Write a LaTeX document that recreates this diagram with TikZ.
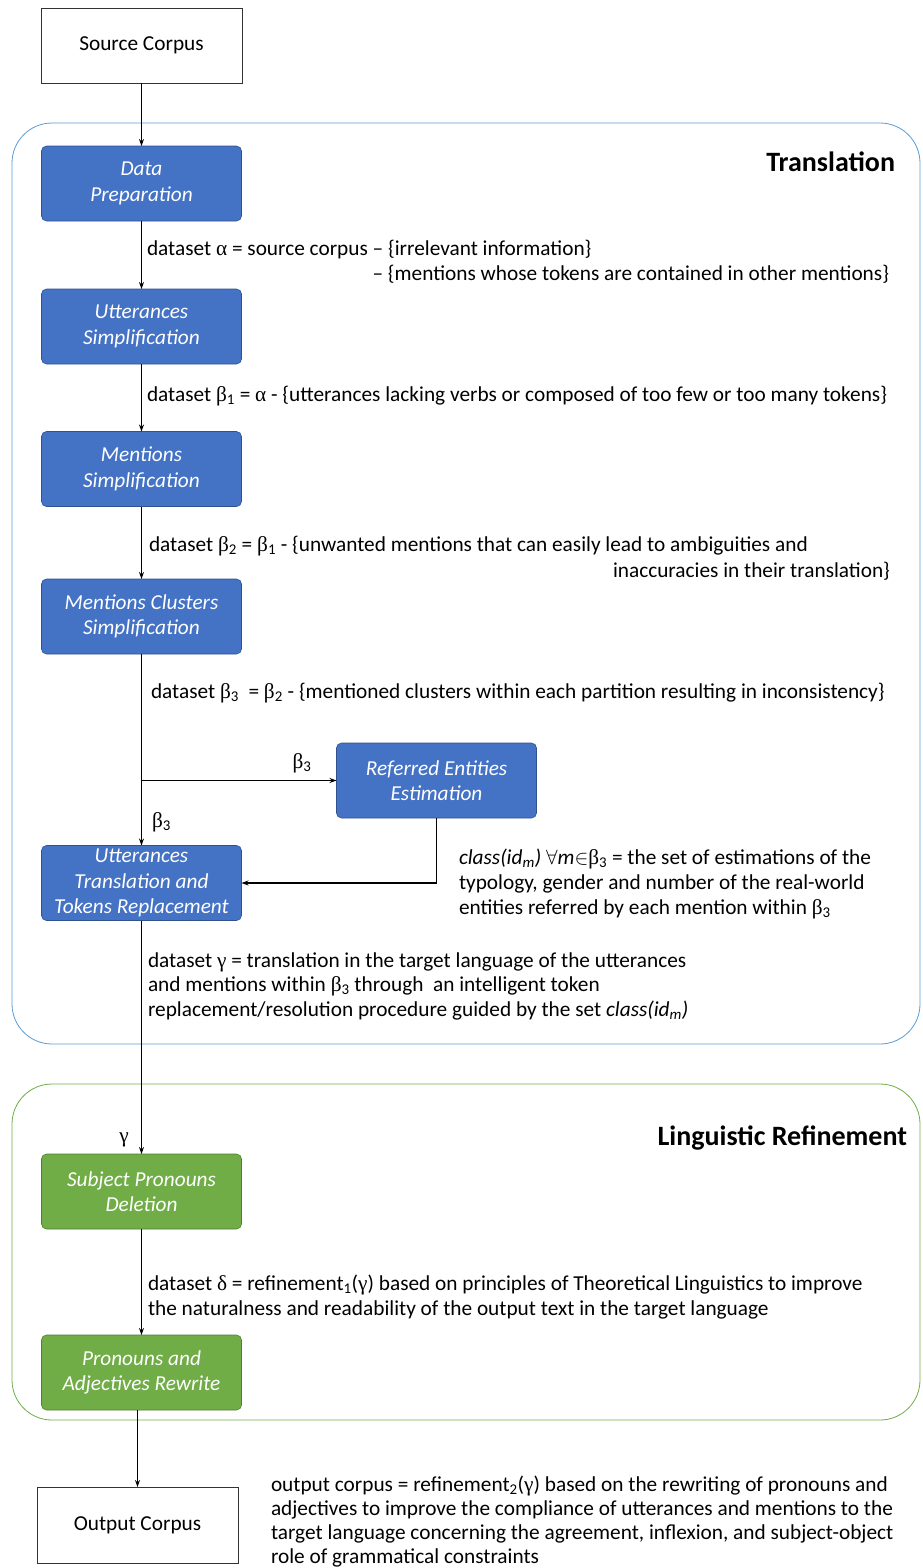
\documentclass[tikz,border=0pt]{standalone}
\usepackage{fontspec}
\setmainfont{Carlito}
\newfontfamily\grk{Liberation Serif}
\usetikzlibrary{arrows.meta}
\definecolor{boxblue}{HTML}{4472C4}
\definecolor{boxblueline}{HTML}{2F528F}
\definecolor{boxgreen}{HTML}{70AD47}
\definecolor{boxgreenline}{HTML}{507E32}
\definecolor{frameblue}{HTML}{5B9BD5}
\definecolor{framegreen}{HTML}{70AD47}
\newcommand{\gk}[1]{{\grk #1}}
\newcommand{\sub}[1]{\textsubscript{#1}}
\begin{document}
\begin{tikzpicture}[x=1pt,y=-1pt,
  every node/.style={inner sep=0pt, outer sep=0pt},
  txt/.style={font=\fontsize{21.3}{24.5}\selectfont, align=left},
  stepbox/.style={draw=boxblueline, line width=0.6pt, fill=boxblue, rounded corners=5pt,
    minimum width=200pt, minimum height=75pt, text=white,
    font=\fontsize{21.3}{25.5}\selectfont\itshape, align=center},
  greenbox/.style={stepbox, fill=boxgreen, draw=boxgreenline},
  plainbox/.style={draw=black!80, line width=0.8pt, minimum width=201pt, minimum height=75pt,
    font=\fontsize{21.3}{25}\selectfont},
  arr/.style={draw=black, line width=1.2pt, -{Stealth[length=7pt,width=5pt]}},
  frame/.style={line width=0.8pt, rounded corners=40pt},
  title/.style={font=\fontsize{28}{32}\selectfont\bfseries}
]
\useasboundingbox (0,0) rectangle (922,1568);
% containers
\node[frame, draw=frameblue, minimum width=908pt, minimum height=921pt] (trans) at (466,583.5) {};
\node[frame, draw=framegreen, minimum width=908pt, minimum height=336pt] (ling) at (466,1252) {};
\node[title, anchor=east] (transT) at (895,162) {Translation};
\node[title, anchor=east] (lingT) at (907,1138) {Linguistic Refinement};
% boxes
\node[plainbox] (src) at (141.5,45.5) {Source Corpus};
\node[stepbox] (prep) at (141.5,183.5) {Data\\Preparation};
\node[stepbox] (usimp) at (141.5,326.5) {Utterances\\Simplification};
\node[stepbox] (msimp) at (141.5,469) {Mentions\\Simplification};
\node[stepbox] (clus) at (141.5,616.5) {Mentions Clusters\\Simplification};
\node[stepbox] (ref) at (436.5,780.5) {Referred Entities\\Estimation};
\node[stepbox] (utrans) at (141.5,883) {Utterances\\Translation and\\Tokens Replacement};
\node[greenbox] (subj) at (141.5,1191.5) {Subject Pronouns\\Deletion};
\node[greenbox] (pron) at (141.5,1372.5) {Pronouns and\\Adjectives Rewrite};
\node[plainbox, minimum height=76pt] (out) at (137.5,1525) {Output Corpus};
% connectors
\draw[arr] (src) -- (prep);
\draw[arr] (prep) -- (usimp);
\draw[arr] (usimp) -- (msimp);
\draw[arr] (msimp) -- (clus);
\draw[arr] (clus) -- (utrans);
\coordinate (br) at (clus.south |- ref.west);
\draw[arr] (br) -- (ref.west);
\draw[arr] (ref.south) |- (utrans.east);
\draw[arr] (utrans) -- (subj);
\draw[arr] (subj) -- (pron);
\draw[arr] (out.north |- pron.south) -- (out.north);
% labels
\node[txt, anchor=base west] (la1) at (147,255) {dataset \gk{α} = source corpus – \{irrelevant information\}};
\node[txt, anchor=base east] (la2) at (889,280) {– \{mentions whose tokens are contained in other mentions\}};
\node[txt, anchor=base west] (lb1) at (147,401) {dataset \gk{β}\sub{1} = \gk{α} - \{utterances lacking verbs or composed of too few or too many tokens\}};
\node[txt, anchor=base west] (lb2) at (149,551) {dataset \gk{β}\sub{2} = \gk{β}\sub{1} - \{unwanted mentions that can easily lead to ambiguities and};
\node[txt, anchor=base east] (lb2b) at (890,577) {inaccuracies in their translation\}};
\node[txt, anchor=base west] (lb3) at (151,698) {dataset \gk{β}\sub{3}\ \ = \gk{β}\sub{2} - \{mentioned clusters within each partition resulting in inconsistency\}};
\node[txt] (b3a) at (302,763) {\gk{β}\sub{3}};
\node[txt, anchor=west] (b3b) at (152,822) {\gk{β}\sub{3}};
\node[txt, anchor=base west, font=\fontsize{21.3}{25}\selectfont] (lcl) at (459,914) {\textit{class(id\sub{m})} $\forall$\textit{m}$\in$\gk{β}\sub{3} = the set of estimations of the\\typology, gender and number of the real-world\\entities referred by each mention within \gk{β}\sub{3}};
\node[txt, anchor=base west] (lg) at (148,1016) {dataset \gk{γ} = translation in the target language of the utterances\\and mentions within \gk{β}\sub{3} through\ \ an intelligent token\\replacement/resolution procedure guided by the set \textit{class(id\sub{m})}};
\node[txt] (gl) at (124,1140) {\gk{γ}};
\node[txt, anchor=base west] (ld) at (148,1315) {dataset \gk{δ} = refinement\sub{1}(\gk{γ}) based on principles of Theoretical Linguistics to improve\\the naturalness and readability of the output text in the target language};
\node[txt, anchor=base west, font=\fontsize{21.3}{24}\selectfont] (lo) at (271,1563) {output corpus = refinement\sub{2}(\gk{γ}) based on the rewriting of pronouns and\\adjectives to improve the compliance of utterances and mentions to the\\target language concerning the agreement, inflexion, and subject-object\\role of grammatical constraints};
\end{tikzpicture}
\end{document}
